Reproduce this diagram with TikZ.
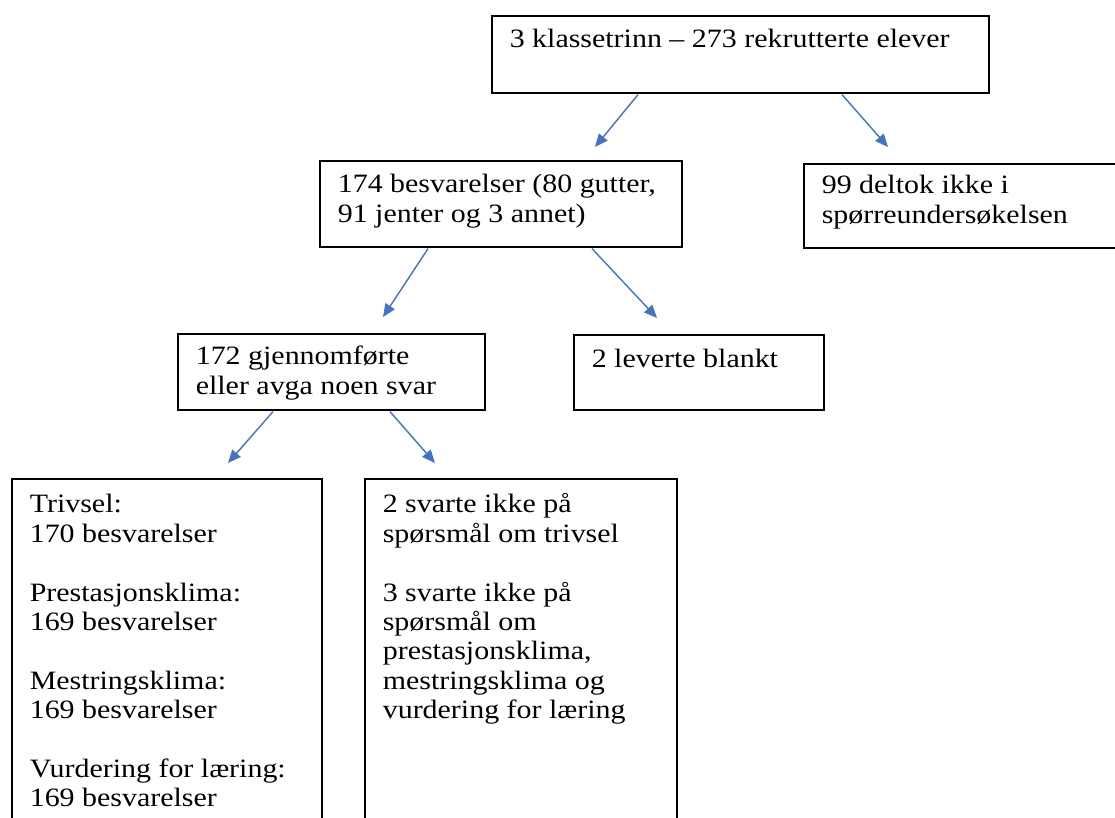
\documentclass[tikz,border=0pt]{standalone}
\usepackage{fontspec}
\setmainfont{Liberation Serif}[FakeStretch=1.13]
\usetikzlibrary{arrows.meta,calc}
\definecolor{arrowblue}{HTML}{4472C4}
\newcommand{\boxtxt}[4]{\parbox[c][#1pt][t]{#2pt}{\raggedright\rule{0pt}{#3pt}#4}}
\tikzset{
  box/.style={draw=black, line width=1.6pt, anchor=north west, inner xsep=18pt, inner ysep=0pt, fill=white},
  flow/.style={draw=arrowblue, line width=1.4pt, -{Triangle[length=13pt,width=11pt]}}
}
\begin{document}
\begin{tikzpicture}[x=1pt,y=-1pt]
\clip (0,0) rectangle (1115,818);
\fill[white] (0,0) rectangle (1115,818);
\fontsize{26.5}{29.4}\selectfont
% boxes
\node[box] (A) at (491,15) {\boxtxt{77}{461}{32}{3 klassetrinn -- 273 rekrutterte elever}};
\node[box] (B) at (319,160) {\boxtxt{86}{326}{32}{174 besvarelser (80 gutter,\\91 jenter og 3 annet)}};
\node[box] (C) at (803,163) {\boxtxt{84}{291}{30}{99 deltok ikke i\\spørreundersøkelsen}};
\node[box] (D) at (177,333) {\boxtxt{76}{271}{31}{172 gjennomførte\\eller avga noen svar}};
\node[box] (E) at (573,334) {\boxtxt{75}{214}{33}{2 leverte blankt}};
\node[box] (F) at (11,478) {\boxtxt{360}{274}{34}{Trivsel:\\170 besvarelser\\[29.4pt]Prestasjonsklima:\\169 besvarelser\\[29.4pt]Mestringsklima:\\169 besvarelser\\[29.4pt]Vurdering for læring:\\169 besvarelser}};
\node[box] (G) at (364,478) {\boxtxt{360}{276}{34}{2 svarte ikke på\\spørsmål om trivsel\\[29.4pt]3 svarte ikke på\\spørsmål om\\prestasjonsklima,\\mestringsklima og\\vurdering for læring}};
% arrow tips
\coordinate (tAB) at (595,147);
\coordinate (tAC) at (888,147);
\coordinate (tBD) at (383,317);
\coordinate (tBE) at (657,318);
\coordinate (tDF) at (228,463);
\coordinate (tDG) at (435,463);
% connectors
\draw[flow] ($(A.south west)+(147,1)$) -- (tAB);
\draw[flow] ($(A.south west)+(351,1)$) -- (tAC);
\draw[flow] ($(B.south west)+(109,1)$) -- (tBD);
\draw[flow] ($(B.south west)+(273,1)$) -- (tBE);
\draw[flow] ($(D.south west)+(96,1)$) -- (tDF);
\draw[flow] ($(D.south west)+(213,1)$) -- (tDG);
\end{tikzpicture}
\end{document}
